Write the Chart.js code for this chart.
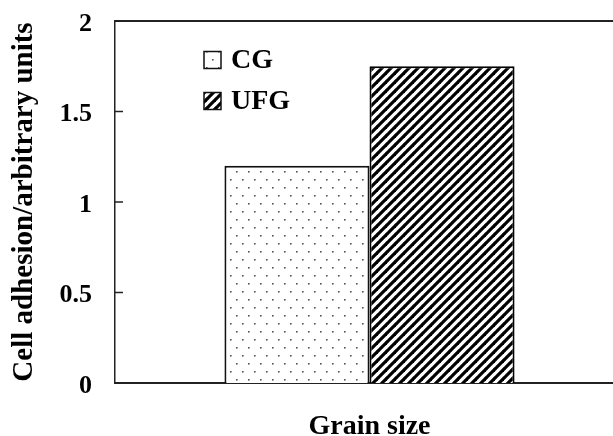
<!DOCTYPE html>
<html>
<head>
<meta charset="utf-8">
<script src="https://cdn.jsdelivr.net/npm/chart.js@4/dist/chart.umd.min.js"></script>
<style>
html,body{margin:0;padding:0;background:#fff;overflow:hidden;}
#wrap{width:613px;height:436px;overflow:hidden;position:relative;}
canvas{display:block;}
</style>
</head>
<body>
<div id="wrap"><canvas id="c" width="630" height="436"></canvas></div>
<script>
// ---- data ----
const categories = ['Grain size'];
const seriesLabels = ['CG', 'UFG'];
const cgValues = [1.2];
const ufgValues = [1.75];
const yTickValues = [0, 0.5, 1, 1.5, 2];
const yTickLabels = ['0', '0.5', '1', '1.5', '2'];
const yTitle = 'Cell adhesion/arbitrary units';

// ---- patterns ----
function dotPattern() {
  const t = document.createElement('canvas');
  t.width = 12; t.height = 16;
  const g = t.getContext('2d');
  g.fillStyle = '#fff'; g.fillRect(0, 0, 12, 16);
  g.fillStyle = '#555';
  g.fillRect(2, 3, 1.6, 1.6);
  g.fillRect(8, 11, 1.6, 1.6);
  return g.createPattern(t, 'repeat');
}
function hatchPattern() {
  const s = 9;
  const t = document.createElement('canvas');
  t.width = s; t.height = s;
  const g = t.getContext('2d');
  g.fillStyle = '#fff'; g.fillRect(0, 0, s, s);
  g.strokeStyle = '#000'; g.lineWidth = 3.2;
  for (const k of [-s, 0, s]) {
    g.beginPath(); g.moveTo(k - 1, s + 1); g.lineTo(k + s + 1, -1); g.stroke();
  }
  return g.createPattern(t, 'repeat');
}

const FAMILY = "'Liberation Serif', 'Times New Roman', serif";
const TICK_FONT = { family: FAMILY, size: 26, weight: 'bold' };
const TITLE_FONT = { family: FAMILY, size: 28, weight: 'bold' };
const YTITLE_FONT = { family: FAMILY, size: 29, weight: 'bold' };

const framePlugin = {
  id: 'frame',
  afterDraw(chart) {
    const { ctx, chartArea: a } = chart;
    ctx.save();
    ctx.strokeStyle = '#222';
    ctx.lineWidth = 2;
    ctx.beginPath(); ctx.moveTo(a.left, a.top); ctx.lineTo(a.right, a.top); ctx.stroke();
    const y = chart.scales.y;
    ctx.lineWidth = 1.5;
    y.ticks.forEach(t => {
      const py = y.getPixelForValue(t.value);
      ctx.beginPath(); ctx.moveTo(a.left, py); ctx.lineTo(a.left + 8, py); ctx.stroke();
    });
    ctx.restore();
  }
};

const legendPlugin = {
  id: 'insideLegend',
  afterDraw(chart) {
    const { ctx, chartArea: a } = chart;
    ctx.save();
    const bx = a.left + 89, box = 17;
    const rows = [a.top + 39, a.top + 80];
    chart.data.datasets.forEach((ds, i) => {
      const cy = rows[i];
      ctx.fillStyle = ds.backgroundColor;
      ctx.fillRect(bx, cy - box / 2, box, box);
      ctx.strokeStyle = '#111'; ctx.lineWidth = 1.5;
      ctx.strokeRect(bx, cy - box / 2, box, box);
      ctx.fillStyle = '#000';
      ctx.font = `bold 28px ${FAMILY}`;
      ctx.textBaseline = 'middle';
      ctx.textAlign = 'left';
      ctx.fillText(ds.label, bx + 27, cy + 1);
    });
    ctx.restore();
  }
};

new Chart(document.getElementById('c'), {
  type: 'bar',
  data: {
    labels: categories,
    datasets: [
      { label: seriesLabels[0], data: cgValues, backgroundColor: dotPattern(), borderColor: '#111', borderWidth: 2, borderSkipped: 'bottom' },
      { label: seriesLabels[1], data: ufgValues, backgroundColor: hatchPattern(), borderColor: '#000', borderWidth: 2, borderSkipped: 'bottom' }
    ]
  },
  options: {
    responsive: false,
    animation: false,
    devicePixelRatio: 1,
    layout: { padding: { top: 21, right: 6, bottom: 0, left: 0 } },
    datasets: { bar: { barPercentage: 1, categoryPercentage: 0.57 } },
    plugins: { legend: { display: false }, tooltip: { enabled: false } },
    scales: {
      x: {
        type: 'category',
        offset: true,
        grid: { display: false, drawTicks: false, tickLength: 0 },
        border: { display: true, color: '#222', width: 2 },
        ticks: { font: TITLE_FONT, color: '#000', padding: 27 },
        afterFit(s) { s.height = 53; s.paddingLeft = 0; s.paddingRight = 0; }
      },
      y: {
        min: 0, max: 2,
        grid: { display: false, drawTicks: false, tickLength: 0 },
        border: { display: true, color: '#222', width: 1.5 },
        afterBuildTicks(s) { s.ticks = yTickValues.map(v => ({ value: v })); },
        ticks: {
          font: TICK_FONT, color: '#000', padding: 23, labelOffset: 3,
          callback: (v, i) => yTickLabels[i]
        },
        title: { display: true, text: yTitle, font: YTITLE_FONT, color: '#000', padding: { top: 7, bottom: 0 } },
        afterFit(s) { s.width = 115; s.paddingTop = 0; s.paddingBottom = 0; }
      }
    }
  },
  plugins: [framePlugin, legendPlugin]
});
</script>
</body>
</html>
